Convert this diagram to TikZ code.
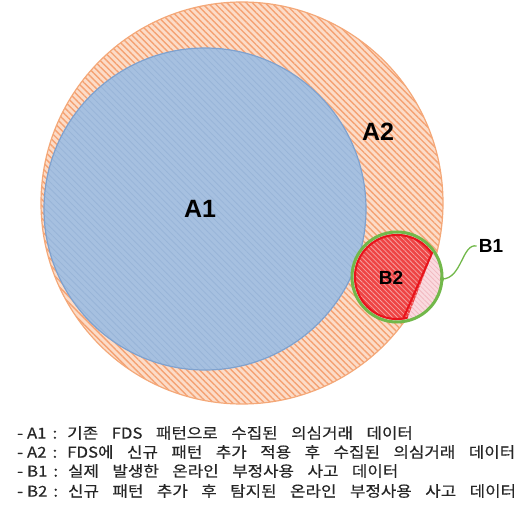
\documentclass[tikz,border=0pt]{standalone}
\usepackage{fontspec}
\setmainfont{Liberation Sans}
\newfontfamily\kr[FakeStretch=1.12,FakeBold=0.4]{Noto Sans CJK KR}
\usetikzlibrary{patterns.meta}
\definecolor{peach}{HTML}{FCDCC8}
\definecolor{hatchor}{HTML}{F5A273}
\definecolor{edgeor}{HTML}{F4A878}
\definecolor{bluefill}{HTML}{A6C0E0}
\definecolor{blueedge}{HTML}{7FA2CF}
\definecolor{bluehatch}{HTML}{98B4D8}
\definecolor{redfill}{HTML}{EE4444}
\definecolor{redhatch}{HTML}{F7A0A0}
\definecolor{redline}{HTML}{E8141C}
\definecolor{pinkfill}{HTML}{FADADF}
\definecolor{pinkhatch}{HTML}{F2B8C0}
\definecolor{greenline}{HTML}{72B84A}
\newcommand{\legfont}{\kr\fontsize{15}{18}\selectfont\spaceskip=13.5pt plus 1pt\relax}
\newcommand{\legitem}[2]{-\hspace{4pt}#1\hspace{6pt}:\hspace{10pt}#2}
\tikzset{
  setlabel/.style={font=\bfseries, text=black, inner sep=0pt},
  legend/.style={anchor=west, inner sep=0pt, font=\legfont, text=black!85}
}
\begin{document}
\begin{tikzpicture}[x=1pt,y=-1pt]
\useasboundingbox (0,0) rectangle (520,514);
% A2
\fill[peach] (242,203) circle (201);
\fill[pattern={Lines[angle=-45,distance=4.5pt,line width=1.4pt]}, pattern color=hatchor] (242,203) circle (201);
\draw[edgeor, line width=1.2pt] (242,203) circle (201);
% A1
\fill[bluefill] (205,209) circle (161);
\fill[pattern={Lines[angle=-45,distance=4.5pt,line width=0.8pt]}, pattern color=bluehatch] (205,209) circle (161);
\draw[blueedge, line width=1.2pt] (205,209) circle (161);
% B1 / B2
\fill[pinkfill] (397,277) circle (45);
\fill[pattern={Lines[angle=-45,distance=3.5pt,line width=0.8pt]}, pattern color=pinkhatch] (397,277) circle (45);
\begin{scope}
  \clip (360,200) -- (437.5,240) -- (401,335) -- (340,335) -- cycle;
  \fill[redfill] (397,277) circle (43);
  \fill[pattern={Lines[angle=-45,distance=3.5pt,line width=0.8pt]}, pattern color=redhatch] (397,277) circle (43);
  \draw[redline, line width=2pt] (397,277) circle (42);
\end{scope}
\draw[redline, line width=2pt] (432.5,252) -- (403,319);
\draw[greenline, line width=3pt] (397,277) circle (45);
% labels
\node[setlabel, font=\bfseries\fontsize{25}{28}\selectfont] (a1) at (200,209) {A1};
\node[setlabel, font=\bfseries\fontsize{25}{28}\selectfont] (a2) at (378,132) {A2};
\node[setlabel, font=\bfseries\fontsize{19}{22}\selectfont] (b2) at (391,278) {B2};
\node[setlabel, font=\bfseries\fontsize{19}{22}\selectfont] (b1) at (491,246) {B1};
\coordinate (b1end) at (442,279);
\draw[greenline, line width=1.3pt] (b1.west) ++(-2,0) coordinate (b1start) .. controls (462,243) and (462,279) .. (b1end);
\fill[greenline] (b1end) circle (2.2);
% legend
\node[legend] (l1) at (17,433) {\legitem{A1}{기존 FDS 패턴으로 수집된 의심거래 데이터}};
\node[legend] (l2) at (17,452) {\legitem{A2}{FDS에 신규 패턴 추가 적용 후 수집된 의심거래 데이터}};
\node[legend] (l3) at (17,471) {\legitem{B1}{실제 발생한 온라인 부정사용 사고 데이터}};
\node[legend] (l4) at (17,491) {\legitem{B2}{신규 패턴 추가 후 탐지된 온라인 부정사용 사고 데이터}};
\end{tikzpicture}
\end{document}
